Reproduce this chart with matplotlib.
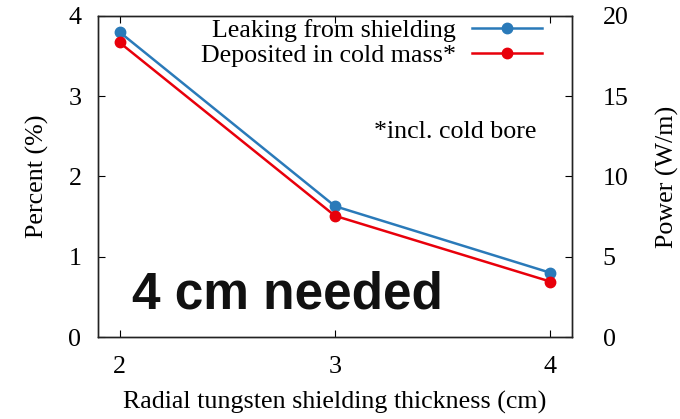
import matplotlib
matplotlib.use('Agg')
import matplotlib.pyplot as plt

plt.rcParams['font.family'] = 'Liberation Serif'
plt.rcParams['font.size'] = 18.7

thickness = [2, 3, 4]
leaking = [3.80, 1.63, 0.80]
deposited = [3.67, 1.51, 0.69]

BLUE = '#2a7ab9'
RED = '#e8000b'

fig = plt.figure(figsize=(6.8, 4.19), dpi=100)
ax = fig.add_axes([98 / 680, 82 / 419, 474 / 680, 321 / 419])

ax.plot(thickness, leaking, color=BLUE, linewidth=1.8, marker='o',
        markersize=7.5, label='Leaking from shielding', zorder=3)
ax.plot(thickness, deposited, color=RED, linewidth=1.8, marker='o',
        markersize=7.5, label='Deposited in cold mass*', zorder=3)

ax.set_xlim(1.9, 4.1)
ax.set_ylim(0, 4)
ax.set_xticks(thickness)
ax.set_yticks([0, 1, 2, 3, 4])
ax.tick_params(direction='in', length=5, width=0.8, top=True, pad=12)
ax.tick_params(axis='x', pad=14)
ax.set_xlabel('Radial tungsten shielding thickness (cm)', labelpad=9)
ax.set_ylabel('Percent (%)', labelpad=14)

ax2 = ax.twinx()
ax2.set_ylim(0, 20)
ax2.set_yticks([0, 5, 10, 15, 20])
ax2.tick_params(direction='in', length=5, width=0.8, pad=22)
ax2.set_ylabel('Power (W/m)', labelpad=20)

for a in (ax, ax2):
  for sp in a.spines.values():
    sp.set_linewidth(1.0)
    sp.set_color('#222222')

ax.legend(loc='upper right', bbox_to_anchor=(542 / 680, 1 - 19 / 419),
          bbox_transform=fig.transFigure, frameon=False, markerfirst=False,
          handlelength=2.7, handletextpad=0.6, borderpad=0, borderaxespad=0,
          labelspacing=0.05)

ax.text(0.925, 0.64, '*incl. cold bore', transform=ax.transAxes,
        ha='right', va='center')
ax.text(2.06, 0.35, '4 cm needed', fontfamily='Liberation Sans',
        fontweight='bold', fontsize=37, ha='left', va='baseline',
        color='#111111')

fig.savefig('out.png', dpi=100)
